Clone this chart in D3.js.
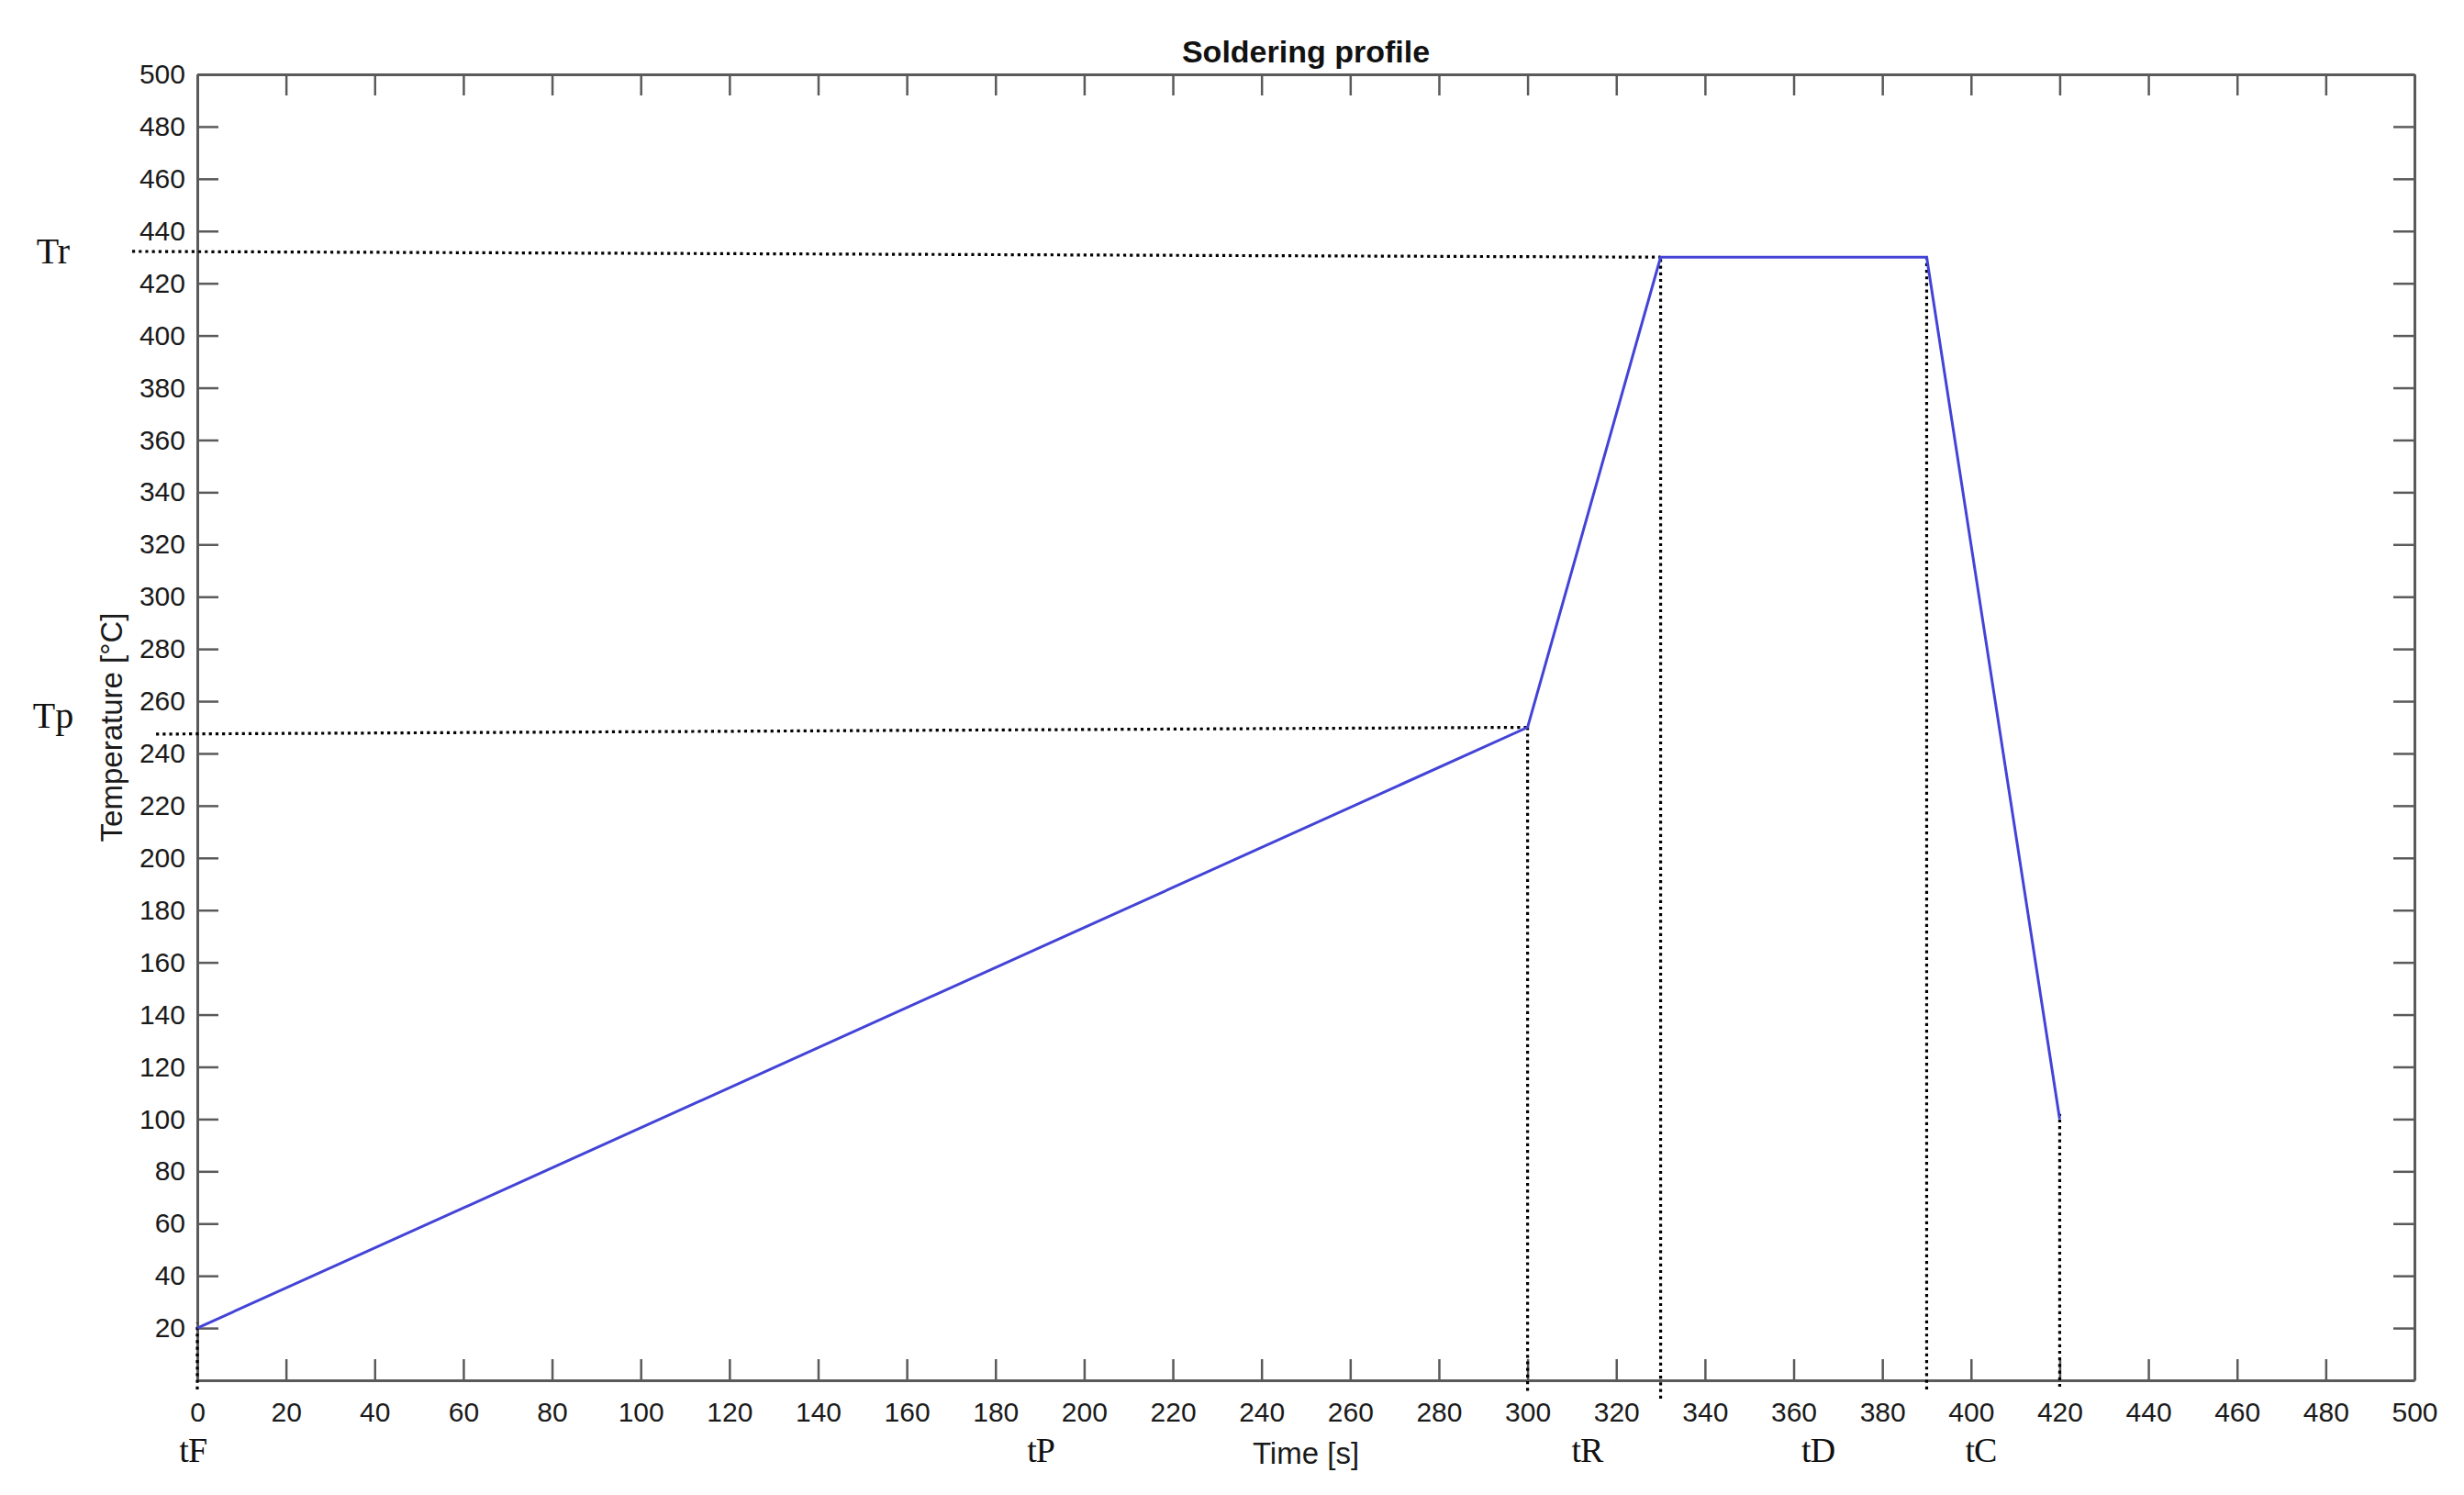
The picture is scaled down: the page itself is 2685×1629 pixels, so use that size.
<!DOCTYPE html>
<html>
<head>
<meta charset="utf-8">
<script src="https://cdn.jsdelivr.net/npm/d3@7"></script>
<style>
  body { margin: 0; background: #fff; }
  .tick text { font-family: 'Liberation Sans', Arial, sans-serif; font-size: 30px; fill: #1a1a1a; }
  .mark-label { font-family: 'Liberation Serif', 'Times New Roman', serif; fill: #111; }
</style>
</head>
<body>
<div id="wrapper"></div>
<script>
// profile points
const profileTime = [0, 300, 330, 390, 420]
const profileTemp = [20, 250, 430, 430, 100]

// time markers (vertical dotted guides) and the label under each
const timeMarkLabels = ['tF', 'tP', 'tR', 'tD', 'tC']
const timeMarkAt = [0, 300, 330, 390, 420]
const timeMarkTop = [22, 250, 430, 430, 102]
const timeMarkBottom = [-3.5, -4, -7, -3.5, -2.5]
const timeMarkLabelAt = [-1, 190.2, 313.4, 365.5, 402.2]

// temperature markers (horizontal dotted guides)
const tempMarkLabels = ['Tr', 'Tp']
const tempMarkStart = [-14.7, -9.3]
const tempMarkLeft = [432.2, 247.4]
const tempMarkRight = [430, 250]
const tempMarkEnd = [330, 300]
const tempMarkLabelAt = [427.5, 250]

const xTicks = d3.range(0, 501, 20)
const yTicks = d3.range(20, 501, 20)

async function drawProfile() {

  const dataset = profileTime.map((t, i) => ({time: t, temp: profileTemp[i]}))
  const xAccessor = d => d.time
  const yAccessor = d => d.temp

  //create dimensions
  let dimensions = {
    width: 2685,
    height: 1629,
    margin: {
      top: 81,
      right: 54,
      bottom: 125,
      left: 215
    }
  }
  dimensions.boundedWidth = dimensions.width - dimensions.margin.left - dimensions.margin.right
  dimensions.boundedHeight = dimensions.height - dimensions.margin.top - dimensions.margin.bottom

  //create chart area
  const wrapper = d3.select('#wrapper')
    .append('svg')
      .attr('width', dimensions.width)
      .attr('height', dimensions.height)

  const bounds = wrapper.append('g')
    .attr('transform', `translate(${dimensions.margin.left}, ${dimensions.margin.top})`)

  //create scales
  const xScale = d3.scaleLinear()
    .domain([0, 500])
    .range([0, dimensions.boundedWidth])

  const yScale = d3.scaleLinear()
    .domain([0, 500])
    .range([dimensions.boundedHeight, 0])

  //draw axes (matlab box style, ticks pointing inward)
  const axisColor = '#5a5a5a'

  bounds.append('g')
      .attr('transform', `translate(0, ${dimensions.boundedHeight})`)
    .call(d3.axisBottom(xScale).tickValues(xTicks).tickSize(-23).tickSizeOuter(0).tickPadding(24))

  bounds.append('g')
    .call(d3.axisTop(xScale).tickValues(xTicks).tickSize(-23).tickSizeOuter(0).tickFormat(''))

  bounds.append('g')
    .call(d3.axisLeft(yScale).tickValues(yTicks).tickSize(-23).tickSizeOuter(0).tickPadding(13))

  bounds.append('g')
      .attr('transform', `translate(${dimensions.boundedWidth}, 0)`)
    .call(d3.axisRight(yScale).tickValues(yTicks).tickSize(-23).tickSizeOuter(0).tickFormat(''))

  bounds.selectAll('.domain')
      .attr('stroke', axisColor)
      .attr('stroke-width', 3)
  bounds.selectAll('.tick line')
      .attr('stroke', axisColor)
      .attr('stroke-width', 2.5)

  //dotted guides
  const dotted = bounds.append('g')
      .attr('fill', 'none')
      .attr('stroke', '#000')
      .attr('stroke-width', 3.2)
      .attr('stroke-dasharray', '3.2 4')

  dotted.selectAll('.v-guide')
    .data(timeMarkAt)
    .join('line')
      .attr('class', 'v-guide')
      .attr('x1', d => xScale(d))
      .attr('x2', d => xScale(d))
      .attr('y1', (d, i) => yScale(timeMarkBottom[i]))
      .attr('y2', (d, i) => yScale(timeMarkTop[i]))

  dotted.selectAll('.h-guide')
    .data(tempMarkLabels)
    .join('line')
      .attr('class', 'h-guide')
      .attr('x1', (d, i) => xScale(tempMarkStart[i]))
      .attr('x2', (d, i) => xScale(tempMarkEnd[i]))
      .attr('y1', (d, i) => yScale(tempMarkLeft[i]))
      .attr('y2', (d, i) => yScale(tempMarkRight[i]))

  //draw profile line
  const lineGenerator = d3.line()
    .x(d => xScale(xAccessor(d)))
    .y(d => yScale(yAccessor(d)))

  bounds.append('path')
      .attr('d', lineGenerator(dataset))
      .attr('fill', 'none')
      .attr('stroke', '#4343d8')
      .attr('stroke-width', 3)

  //marker labels
  bounds.selectAll('.t-label')
    .data(timeMarkLabels)
    .join('text')
      .attr('class', 'mark-label t-label')
      .attr('x', (d, i) => xScale(timeMarkLabelAt[i]))
      .attr('y', dimensions.boundedHeight + 89)
      .attr('text-anchor', 'middle')
      .style('font-size', '38px')
      .style('letter-spacing', '-1px')
      .text(d => d)

  bounds.selectAll('.temp-label')
    .data(tempMarkLabels)
    .join('text')
      .attr('class', 'mark-label temp-label')
      .attr('x', -157)
      .attr('y', (d, i) => yScale(tempMarkLabelAt[i]))
      .attr('text-anchor', 'middle')
      .style('font-size', '40px')
      .text(d => d)

  //axis labels and title
  bounds.append('text')
      .attr('x', dimensions.boundedWidth / 2)
      .attr('y', dimensions.boundedHeight + 91)
      .attr('text-anchor', 'middle')
      .style('font-family', "'Liberation Sans', Arial, sans-serif")
      .style('font-size', '33px')
      .attr('fill', '#1a1a1a')
      .text('Time [s]')

  bounds.append('text')
      .attr('transform', `translate(-82, ${dimensions.boundedHeight / 2}) rotate(-90)`)
      .attr('text-anchor', 'middle')
      .style('font-family', "'Liberation Sans', Arial, sans-serif")
      .style('font-size', '33px')
      .attr('fill', '#1a1a1a')
      .text('Temperature [°C]')

  bounds.append('text')
      .attr('x', dimensions.boundedWidth / 2)
      .attr('y', -13)
      .attr('text-anchor', 'middle')
      .style('font-family', "'Liberation Sans', Arial, sans-serif")
      .style('font-size', '34px')
      .style('font-weight', 'bold')
      .attr('fill', '#111')
      .text('Soldering profile')
}

drawProfile()
</script>
</body>
</html>
